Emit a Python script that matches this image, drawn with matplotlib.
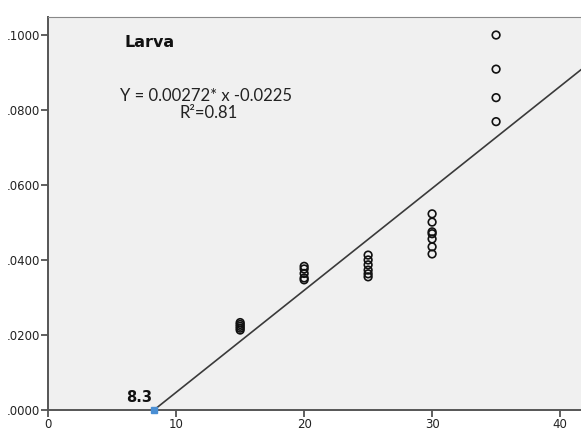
import matplotlib.pyplot as plt
import numpy as np

# observations per temperature
x15 = [15] * 5
y15 = [0.0213, 0.0218, 0.0223, 0.0228, 0.0233]
x20 = [20] * 5
y20 = [0.0383, 0.0376, 0.0364, 0.0352, 0.0347]
x25 = [25] * 6
y25 = [0.0413, 0.0400, 0.0387, 0.0373, 0.0363, 0.0355]
x30 = [30] * 7
y30 = [0.0523, 0.0501, 0.0475, 0.0470, 0.0456, 0.0435, 0.0416]
x35 = [35] * 4
y35 = [0.1000, 0.0909, 0.0833, 0.0769]

slope = 0.00272
intercept = -0.0225
x_threshold = 8.3

xs = x15 + x20 + x25 + x30 + x35
ys = y15 + y20 + y25 + y30 + y35

fig = plt.figure(figsize=(5.81, 4.37), dpi=100)
ax = fig.add_axes([0.083, 0.062, 0.925, 0.899])
ax.set_facecolor("#f0f0f0")

ax.scatter(xs, ys, s=30, facecolors="none", edgecolors="#111111",
           linewidths=1.2, zorder=3)

line_x = np.array([x_threshold, 43])
ax.plot(line_x, slope * line_x + intercept, color="#3a3a3a", lw=1.2, zorder=2)

ax.plot([x_threshold], [0], marker="s", ms=5, color="#4a8fd4", clip_on=False, zorder=4)
ax.text(x_threshold - 0.2, 0.0012, "8.3", fontsize=10.5, fontweight="bold",
        ha="right", va="bottom", color="#111111")

ax.text(6.0, 0.0979, "Larva", fontsize=11.5, fontweight="bold", va="center",
        color="#111111")
ax.text(12.3, 0.0837, "Y = 0.00272* x -0.0225", fontsize=12, ha="center",
        va="center", family=["Lato", "DejaVu Sans"], color="#222222")
ax.text(12.5, 0.0792, "R²=0.81", fontsize=12, ha="center", va="center",
        family=["Lato", "DejaVu Sans"], color="#222222")

ax.set_xlim(0, 42)
ax.set_ylim(0, 0.1048)
ax.set_xticks([0, 10, 20, 30, 40])
ax.set_yticks([0, 0.02, 0.04, 0.06, 0.08, 0.10])
ax.set_yticklabels([".0000", ".0200", ".0400", ".0600", ".0800", ".1000"])

ax.tick_params(direction="out", length=5, width=1.2, colors="#444444",
               labelsize=8.5, labelcolor="#222222", pad=1)
for side in ["left", "bottom"]:
    ax.spines[side].set_color("#555555")
    ax.spines[side].set_linewidth(1.4)
ax.spines["top"].set_color("#888888")
ax.spines["right"].set_visible(False)

fig.savefig("out.png", dpi=100)
